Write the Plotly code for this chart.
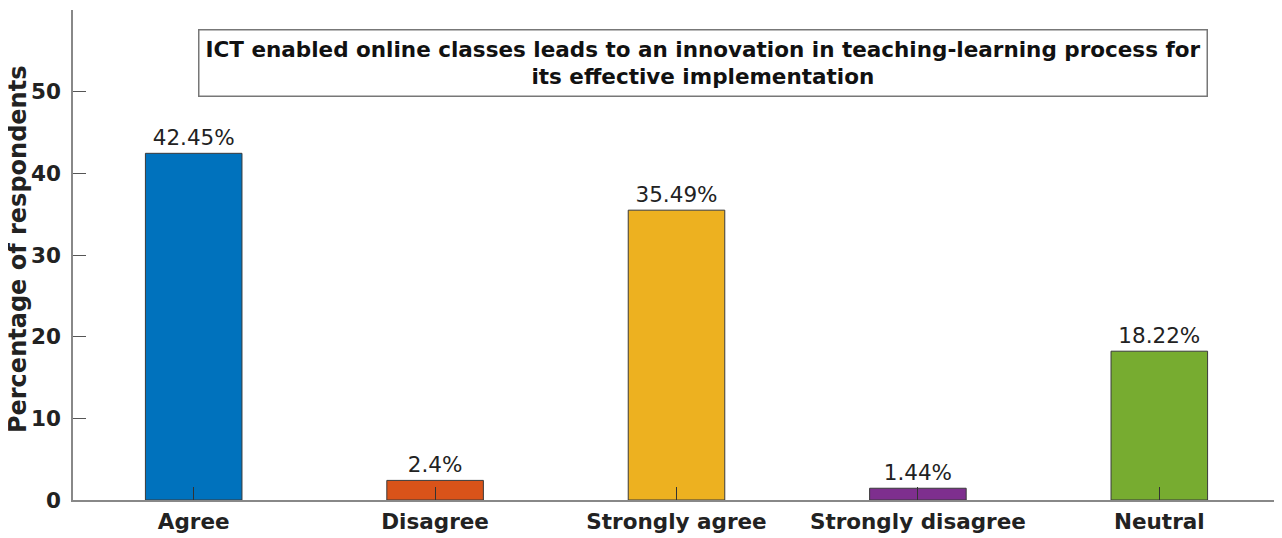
import plotly.graph_objects as go

categories = ["Agree", "Disagree", "Strongly agree", "Strongly disagree", "Neutral"]
values = [42.45, 2.4, 35.49, 1.44, 18.22]
colors = ["#0072BD", "#D95319", "#EDB120", "#7E2F8E", "#77AC30"]
y_ticks = [0, 10, 20, 30, 40, 50]
title_text = ("ICT enabled online classes leads to an innovation in teaching-learning process for"
              "<br>its effective implementation")
y_label = "Percentage of respondents"

FONT = "DejaVu Sans"

fig = go.Figure()
fig.add_trace(go.Bar(
    x=list(range(len(categories))),
    y=values,
    width=0.4,
    marker=dict(color=colors, line=dict(color="#3a3a3a", width=1)),
    text=[f"{v}%" for v in values],
    textposition="outside",
    textfont=dict(family=FONT, size=21.5, color="#222"),
    cliponaxis=False,
    constraintext="none",
))

fig.update_layout(
    width=1274, height=530,
    margin=dict(l=65, r=2, t=2, b=38),
    paper_bgcolor="white", plot_bgcolor="white",
    showlegend=False,
    font=dict(family=FONT),
    xaxis=dict(
        range=[-0.5, 4.5],
        automargin=False,
        tickmode="array",
        tickvals=list(range(len(categories))),
        ticktext=[f"<b>{c}</b>" for c in categories],
        tickfont=dict(family=FONT, size=21.5, color="#222"),
        ticks="inside", ticklen=13, tickcolor="#333", tickwidth=1,
        ticklabelstandoff=1,
        showline=True, linecolor="#888", linewidth=1.5,
        showgrid=False, zeroline=False,
    ),
    yaxis=dict(
        range=[0, 60],
        automargin=False,
        tickvals=y_ticks,
        ticktext=[f"<b>{t}</b>" for t in y_ticks],
        tickfont=dict(family=FONT, size=21.5, color="#222"),
        ticks="inside", ticklen=13, tickcolor="#555", tickwidth=1,
        ticklabelstandoff=6,
        showline=True, linecolor="#888", linewidth=1.5,
        showgrid=False, zeroline=False,
    ),
    annotations=[
        dict(
            text=f"<b>{title_text}</b>",
            xref="paper", yref="paper", x=0.522, y=0.891,
            xanchor="center", yanchor="middle",
            showarrow=False, align="center",
            font=dict(family=FONT, size=21.5, color="#111"),
            bgcolor="white", bordercolor="#777", borderwidth=1.5, borderpad=6,
        ),
        dict(
            text=f"<b>{y_label}</b>",
            xref="paper", yref="paper", x=-0.0456, y=0.512,
            xanchor="center", yanchor="middle", textangle=-90,
            showarrow=False,
            font=dict(family=FONT, size=24, color="#222"),
        ),
    ],
)

fig.write_html("out.html")
